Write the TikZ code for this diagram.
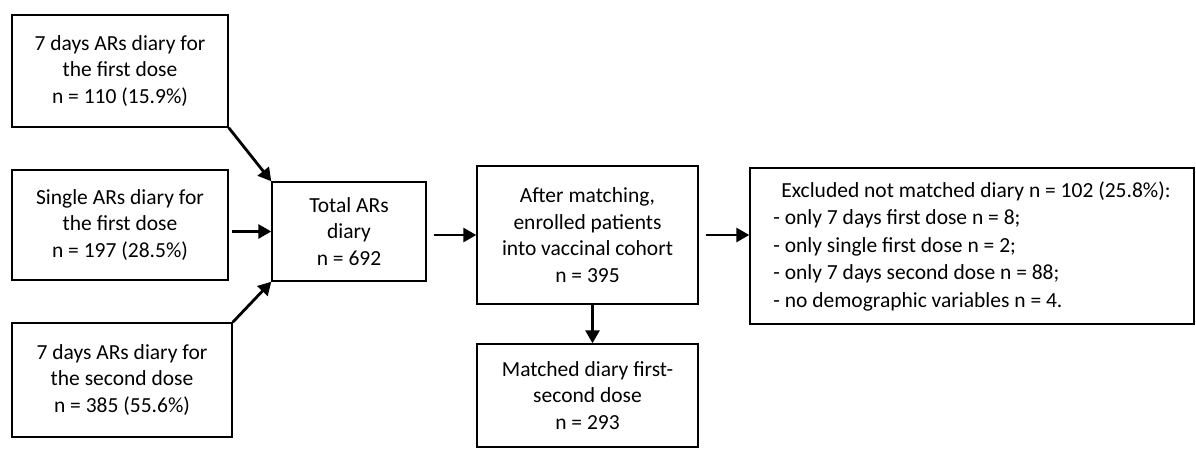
\documentclass[tikz,border=0pt]{standalone}
\usepackage{fontspec}
\setmainfont{Carlito}
\usetikzlibrary{arrows.meta}
\begin{document}
\begin{tikzpicture}[x=1pt,y=-1pt,
  box/.style={draw, line width=1.4pt, inner sep=0pt, align=center,
    font=\fontsize{21.5}{26.5}\selectfont},
  conn/.style={line width=2.8pt, -{Triangle[length=13pt,width=14pt]}}]
\useasboundingbox (0,0) rectangle (1196,448);
\node[box, minimum width=216, minimum height=112] (A) at (120,71)
  {7 days ARs diary for\\the first dose\\n = 110 (15.9\%)};
\node[box, minimum width=216, minimum height=110] (B) at (120,225)
  {Single ARs diary for\\the first dose\\n = 197 (28.5\%)};
\node[box, minimum width=220, minimum height=114] (C) at (122,380)
  {7 days ARs diary for\\the second dose\\n = 385 (55.6\%)};
\node[box, minimum width=154, minimum height=99] (T) at (349,231.5)
  {Total ARs\\diary\\n = 692};
\node[box, minimum width=221, minimum height=138] (F) at (587.5,235)
  {After matching,\\enrolled patients\\into vaccinal cohort\\n = 395};
\node[box, minimum width=221, minimum height=103] (M) at (587.5,395.5)
  {Matched diary first-\\second dose\\n = 293};
\node[box, minimum width=444, minimum height=156, align=left,
  font=\fontsize{21.5}{27.5}\selectfont] (E) at (972,246)
  {\hspace*{8pt}Excluded not matched diary n = 102 (25.8\%):\\
   - only 7 days first dose n = 8;\\
   - only single first dose n = 2;\\
   - only 7 days second dose n = 88;\\
   - no demographic variables n = 4.};
\draw[conn] (A.south east) -- (T.north west);
\draw[conn, shorten <=3pt] (B.east |- T.west) -- (T.west);
\draw[conn] (C.north east) -- (T.south west);
\draw[conn, shorten <=7pt] (T.east |- F.west) -- (F.west);
\draw[conn, shorten <=7pt] (F.east) -- (F.east -| E.west);
\draw[conn] ([xshift=5pt]F.south) -- ([xshift=5pt]M.north);
\end{tikzpicture}
\end{document}
